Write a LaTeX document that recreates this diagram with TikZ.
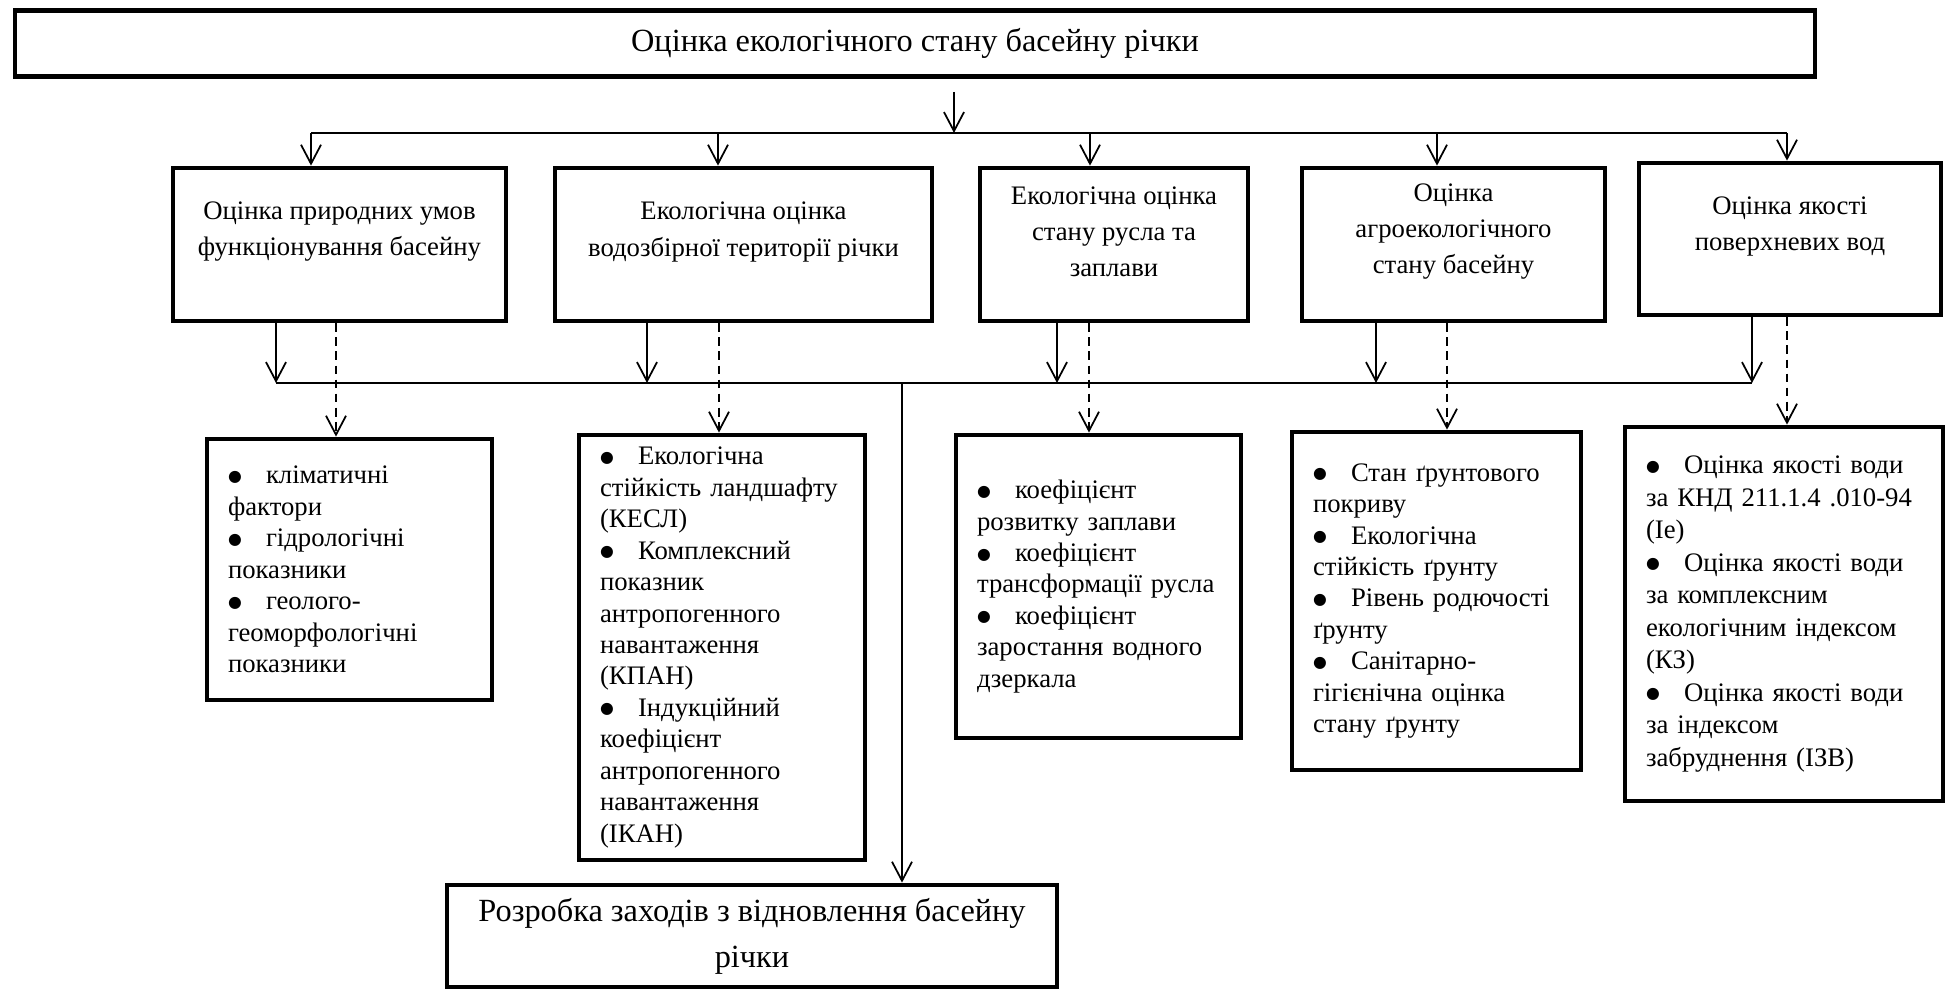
\documentclass[tikz,border=0pt]{standalone}
\usepackage{fontspec}
\setmainfont{Liberation Serif}
\newfontfamily\symfont{DejaVu Sans}
\usetikzlibrary{arrows.meta}
\newcommand{\bul}{\makebox[0.76cm][l]{\raisebox{1.4pt}{\symfont\fontsize{9pt}{9pt}\selectfont ●}}}

\begin{document}
\begin{tikzpicture}[
  box/.style={draw, rectangle, line width=2.7pt, inner sep=0pt},
  head/.style={box, align=center, font=\fontsize{18.4pt}{26.2pt}\selectfont},
  lvl/.style={box, minimum height=3.06cm},
  lvltxt/.style={align=center, inner sep=0pt, font=\fontsize{15.2pt}{20.5pt}\selectfont},
  lst/.style={box, align=left, inner xsep=0.42cm, font=\fontsize{15.2pt}{17.9pt}\selectfont},
  arr/.style={line width=1pt, -{Straight Barb[length=0.38cm,width=0.4cm]}},
  dasharr/.style={arr, dash pattern=on 5pt off 3pt},
  bus/.style={line width=0.8pt}
]
\useasboundingbox (0,0) rectangle (38.96,-19.84);

\node[head, minimum width=36cm, minimum height=1.32cm] (title) at (18.30,-0.87) {Оцінка екологічного стану басейну річки};

% second level
\node[lvl, minimum width=6.66cm] (pryr) at (6.79,-4.89) {};
\node[lvltxt] (pryrt) at ([yshift=0.25cm]pryr) {Оцінка природних умов\\функціонування басейну};
\node[lvl, minimum width=7.54cm] (vodz) at (14.87,-4.89) {};
\node[lvltxt] (vodzt) at ([yshift=0.25cm]vodz) {Екологічна оцінка\\водозбірної території річки};
\node[lvl, minimum width=5.36cm] (rusl) at (22.28,-4.89) {};
\node[lvltxt] (ruslt) at ([yshift=0.25cm]rusl) {Екологічна оцінка\\стану русла та\\заплави};
\node[lvl, minimum width=6.06cm] (agro) at (29.07,-4.89) {};
\node[lvltxt] (agrot) at ([yshift=0.25cm]agro) {Оцінка\\агроекологічного\\стану басейну};
\node[lvl, minimum width=6.04cm, minimum height=3.04cm] (yak) at (35.80,-4.78) {};
\node[lvltxt] (yakt) at ([yshift=0.25cm]yak) {Оцінка якості\\поверхневих вод};

% lists
\node[lst, text width=4.86cm, minimum height=5.22cm] (klim) at (6.99,-11.39) {\bul кліматичні\\фактори\\\bul гідрологічні\\показники\\\bul геолого-\\геоморфологічні\\показники};
\node[lst, text width=4.88cm, minimum height=8.50cm] (kesl) at (14.44,-12.95) {\bul Екологічна\\стійкість ландшафту\\(КЕСЛ)\\\bul Комплексний\\показник\\антропогенного\\навантаження\\(КПАН)\\\bul Індукційний\\коефіцієнт\\антропогенного\\навантаження\\(ІКАН)};
\node[lst, text width=4.86cm, minimum height=6.06cm] (koef) at (21.97,-11.73) {\bul коефіцієнт\\розвитку заплави\\\bul коефіцієнт\\трансформації русла\\\bul коефіцієнт\\заростання водного\\дзеркала};
\node[lst, text width=4.94cm, minimum height=6.76cm] (grunt) at (28.73,-12.02) {\bul Стан ґрунтового\\покриву\\\bul Екологічна\\стійкість ґрунту\\\bul Рівень родючості\\ґрунту\\\bul Санітарно-\\гігієнічна оцінка\\стану ґрунту};
\node[lst, text width=5.52cm, minimum height=7.48cm, font=\fontsize{15.2pt}{18.5pt}\selectfont] (yakv) at (35.68,-12.28) {\bul Оцінка якості води\\за КНД 211.1.4 .010-94\\(Іе)\\\bul Оцінка якості води\\за комплексним\\екологічним індексом\\(КЗ)\\\bul Оцінка якості води\\за індексом\\забруднення (ІЗВ)};

\node[head, minimum width=12.20cm, minimum height=2.04cm] (rozr) at (15.04,-18.72) {Розробка заходів з відновлення басейну\\річки};

\coordinate (hub) at (19.08,-2.66);
\coordinate (low) at (18.04,-7.66);

% top bus
\draw[arr] (title.south -| hub) ++(0,-0.26) -- (hub);
\draw[bus] ([xshift=-0.57cm]pryr.north |- hub) -- ([xshift=-0.06cm]yak.north |- hub);
\draw[arr] ([xshift=-0.57cm]pryr.north |- hub) -- ([xshift=-0.57cm]pryr.north);
\draw[arr] ([xshift=-0.51cm]vodz.north |- hub) -- ([xshift=-0.51cm]vodz.north);
\draw[arr] ([xshift=-0.48cm]rusl.north |- hub) -- ([xshift=-0.48cm]rusl.north);
\draw[arr] ([xshift=-0.33cm]agro.north |- hub) -- ([xshift=-0.33cm]agro.north);
\draw[arr] ([xshift=-0.06cm]yak.north |- hub) -- ([xshift=-0.06cm]yak.north);

% bottom bus
\draw[arr] ([xshift=-1.27cm]pryr.south) -- ([xshift=-1.27cm]pryr.south |- low);
\draw[arr] ([xshift=-1.93cm]vodz.south) -- ([xshift=-1.93cm]vodz.south |- low);
\draw[arr] ([xshift=-1.14cm]rusl.south) -- ([xshift=-1.14cm]rusl.south |- low);
\draw[arr] ([xshift=-1.55cm]agro.south) -- ([xshift=-1.55cm]agro.south |- low);
\draw[arr] ([xshift=-0.76cm]yak.south) -- ([xshift=-0.76cm]yak.south |- low);
\draw[bus] ([xshift=-1.27cm]pryr.south |- low) -- ([xshift=-0.76cm]yak.south |- low);
\draw[arr] (low) -- (low |- rozr.north);

% dashed
\draw[dasharr] ([xshift=-0.07cm]pryr.south) -- ([xshift=-0.07cm]pryr.south |- klim.north);
\draw[dasharr] ([xshift=-0.49cm]vodz.south) -- ([xshift=-0.49cm]vodz.south |- kesl.north);
\draw[dasharr] ([xshift=-0.50cm]rusl.south) -- ([xshift=-0.50cm]rusl.south |- koef.north);
\draw[dasharr] ([xshift=-0.13cm]agro.south) -- ([xshift=-0.13cm]agro.south |- grunt.north);
\draw[dasharr] ([xshift=-0.06cm]yak.south) -- ([xshift=-0.06cm]yak.south |- yakv.north);
\end{tikzpicture}
\end{document}
